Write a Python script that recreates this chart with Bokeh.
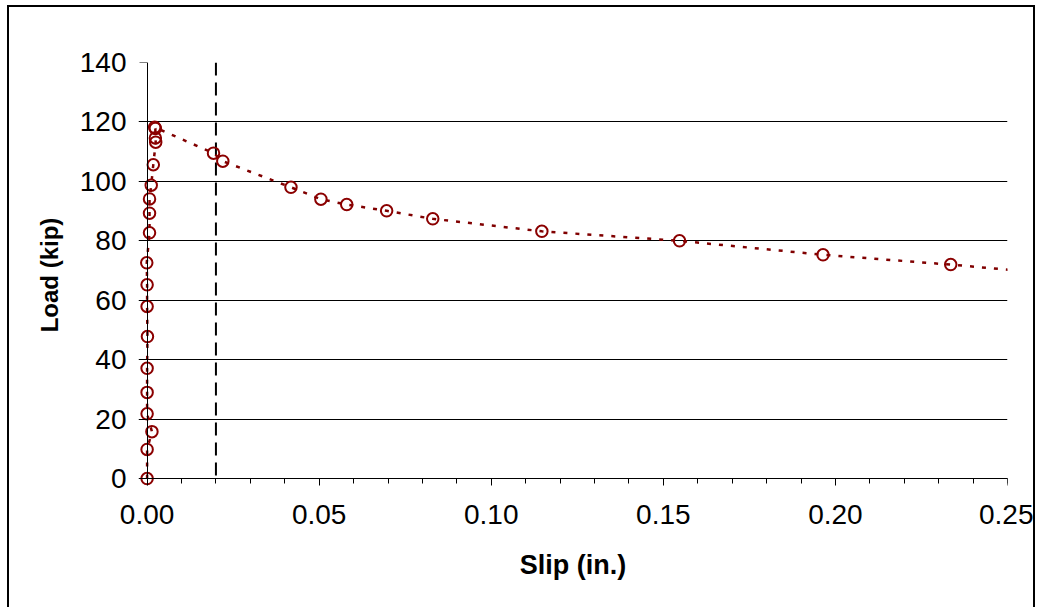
from bokeh.plotting import figure
from bokeh.models import Range1d, SingleIntervalTicker, FixedTicker, NumeralTickFormatter, LinearAxis
from bokeh.embed import file_html
from bokeh.resources import INLINE

# Measured load–slip data (slip in inches, load in kip)
slip = [0.0000, 0.0000, 0.0014, 0.0000, 0.0000, 0.0000, 0.0001, 0.0000, 0.0000, -0.0001,
        0.0007, 0.0007, 0.0007, 0.0012, 0.0018, 0.0025, 0.0024, 0.0024, 0.0022,
        0.0193, 0.0220, 0.0418, 0.0505, 0.0580, 0.0696, 0.0830, 0.1147, 0.1547,
        0.1964, 0.2335]
load = [0.0, 9.8, 15.8, 21.8, 29.0, 37.1, 47.8, 57.9, 65.2, 72.6,
        82.7, 89.3, 94.1, 98.7, 105.6, 113.2, 114.6, 117.8, 118.2,
        109.5, 106.8, 98.0, 94.0, 92.2, 90.1, 87.4, 83.2, 80.0,
        75.3, 72.0]

# end of the dotted trend curve beyond the last reading
trend_tail_slip = [0.2527]
trend_tail_load = [70.0]

limit_slip = 0.02          # vertical dashed reference line
y_tick_values = [0, 20, 40, 60, 80, 100, 120, 140]
x_axis_limits = (0.0, 0.25)
x_major_step = 0.05
x_minor_step = 0.01
x_major_ticks = [round(i * x_major_step, 4) for i in range(6)]
x_minor_ticks = [round(i * x_minor_step, 4) for i in range(26)]

FONT = "Liberation Sans"
RED = "#800000"

p = figure(width=1028, height=602, output_backend="svg", toolbar_location=None,
           x_range=Range1d(-0.0025, 0.25), y_range=Range1d(-3, 140),
           min_border_left=129, min_border_right=30, min_border_top=55, min_border_bottom=122,
           background_fill_color="white", border_fill_color="white")
p.outline_line_color = None
p.styles = {"margin-left": "7px", "margin-top": "5px",
            "border-left": "2px solid black", "border-top": "2px solid black",
            "border-right": "2px solid black"}

# grid
p.xgrid.grid_line_color = None
p.ygrid.ticker = FixedTicker(ticks=y_tick_values)
p.ygrid.grid_line_color = "black"
p.ygrid.grid_line_width = 1


def tick_only_axis(axis, ticks, out):
    """axis drawn at 0 with tick marks only (no labels)"""
    axis.fixed_location = 0
    axis.ticker = FixedTicker(ticks=[], minor_ticks=ticks)
    axis.major_tick_line_color = None
    axis.major_tick_in = 0
    axis.major_tick_out = 0
    axis.minor_tick_in = 0
    axis.minor_tick_out = out
    axis.minor_tick_line_color = "black"
    axis.axis_line_color = "black"


# x axis line + ticks at load = 0
xa = p.xaxis[0]
tick_only_axis(xa, x_minor_ticks, 5)
xa.bounds = x_axis_limits
xa_major = LinearAxis()
tick_only_axis(xa_major, x_major_ticks, 7)
xa_major.bounds = x_axis_limits

# x tick labels + title
xl = LinearAxis(ticker=SingleIntervalTicker(interval=x_major_step, num_minor_ticks=0),
                formatter=NumeralTickFormatter(format="0.00"), bounds=x_axis_limits)
xl.axis_line_color = None
xl.major_tick_line_color = None
xl.minor_tick_line_color = None
xl.major_tick_in = 0
xl.major_tick_out = 0
xl.minor_tick_in = 0
xl.minor_tick_out = 0
xl.major_label_text_font = FONT
xl.major_label_text_font_size = "28px"
xl.major_label_text_color = "black"
xl.major_label_standoff = 17
xl.axis_label = "Slip (in.)"
xl.axis_label_text_font = FONT
xl.axis_label_text_font_style = "bold"
xl.axis_label_text_font_size = "27px"
xl.axis_label_text_color = "black"
xl.axis_label_standoff = 23

# y axis line + ticks at slip = 0
ya = p.yaxis[0]
tick_only_axis(ya, y_tick_values, 8)
ya.bounds = (y_tick_values[0], y_tick_values[-1])

# y tick labels + title
yl = LinearAxis(ticker=FixedTicker(ticks=y_tick_values),
                bounds=(y_tick_values[0], y_tick_values[-1]))
yl.axis_line_color = None
yl.major_tick_line_color = None
yl.minor_tick_line_color = None
yl.major_tick_in = 0
yl.major_tick_out = 0
yl.minor_tick_in = 0
yl.minor_tick_out = 0
yl.major_label_text_font = FONT
yl.major_label_text_font_size = "28px"
yl.major_label_text_color = "black"
yl.major_label_standoff = 12
yl.axis_label = "Load (kip)"
yl.axis_label_text_font = FONT
yl.axis_label_text_font_style = "bold"
yl.axis_label_text_font_size = "24px"
yl.axis_label_text_color = "black"
yl.axis_label_standoff = 14

p.below = [xl, xa, xa_major]
p.left = [yl, ya]

# vertical dashed reference line (from 0 to the top of the load scale)
p.segment(x0=[limit_slip], y0=[y_tick_values[-1]], x1=[limit_slip], y1=[y_tick_values[0]],
          line_color="black", line_width=2, line_dash="13 7")

# dotted trend line through the readings
p.line(slip + trend_tail_slip, load + trend_tail_load, line_color=RED, line_width=2.5,
       line_dash="4 8")

# open circle markers
p.scatter(slip, load, marker="circle", size=11.5, fill_color=None,
          line_color="#8b0000", line_width=2)

open("out.html", "w").write(file_html(p, INLINE))
